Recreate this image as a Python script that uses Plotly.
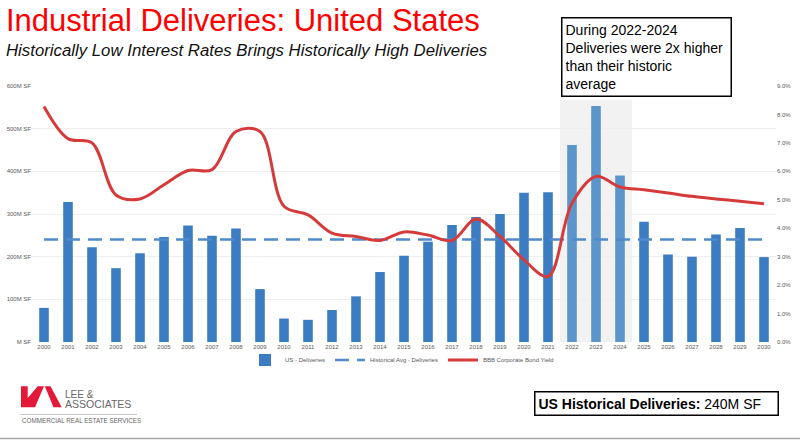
import plotly.graph_objects as go

# data
years = list(range(2000, 2031))
deliveries = [80, 328, 222, 173, 208, 246, 273, 249, 266, 124, 55, 52, 75, 107, 164,
              202, 235, 274, 293, 300, 350, 351, 462, 553, 390, 282, 205, 200, 252, 267, 199]
historical_avg = [240] * len(years)
bbb_yield = [8.28, 7.15, 7.0, 5.17, 5.03, 5.53, 6.03, 6.06, 7.4, 7.4, 4.77, 4.47, 3.83, 3.71, 3.57,
             3.87, 3.76, 3.57, 4.32, 3.71, 2.89, 2.30, 4.88, 5.82, 5.45, 5.35, 5.24, 5.12, 5.03, 4.95, 4.86]
highlight_years = [2022, 2023, 2024]
left_ticks = [0, 100, 200, 300, 400, 500, 600]
left_labels = ["M SF", "100M SF", "200M SF", "300M SF", "400M SF", "500M SF", "600M SF"]
right_ticks = [0, 1, 2, 3, 4, 5, 6, 7, 8, 9]

W, H = 800, 443
L, R, T, B = 32, 24, 86, 101
PW, PH = W - L - R, H - T - B


def px(x):
    return (x - L) / PW


def py(y):
    return (H - B - y) / PH


FONT = "Liberation Sans, Arial, sans-serif"
TICK = dict(family=FONT, size=6, color="#595959")

bar_colors = ['#5B95C9' if y in highlight_years else '#3B7DC0' for y in years]

fig = go.Figure()

# Deliveries bars
fig.add_trace(go.Bar(
    x=years, y=deliveries,
    marker=dict(color=bar_colors, line=dict(width=0)),
    width=0.4,
    name="US - Deliveries"))

# Historical average (dashed)
fig.add_trace(go.Scatter(
    x=years, y=historical_avg,
    mode='lines',
    line=dict(color='#4F8ACB', width=2.5, dash='14px,8px'),
    name="Historical Avg - Deliveries"))

# BBB yield on right axis
fig.add_trace(go.Scatter(
    x=years, y=bbb_yield,
    mode='lines',
    line=dict(color='#D63B3B', width=3, shape='spline', smoothing=1.0),
    name="BBB Corporate Bond Yield",
    yaxis='y2'))

fig.update_layout(
    width=W, height=H,
    margin=dict(l=L, r=R, t=T, b=B, autoexpand=False),
    paper_bgcolor='white', plot_bgcolor='white',
    font=dict(family=FONT),
    showlegend=True,
    legend=dict(orientation='h', x=px(402), y=py(360), xanchor='center', yanchor='middle',
                font=dict(family=FONT, size=6, color='#595959'), itemwidth=30,
                bgcolor='rgba(0,0,0,0)'),
    xaxis=dict(range=[1999.5, 2030.5], tickvals=years, ticktext=[str(y) for y in years],
               tickfont=TICK, showgrid=False, zeroline=False, showline=False, ticks='',
               automargin=False),
    yaxis=dict(range=[0, 600], tickvals=left_ticks, ticktext=left_labels, tickfont=TICK,
               showgrid=True, gridcolor='#EEEEEE', gridwidth=1, zeroline=False, ticks='',
               automargin=False),
    yaxis2=dict(range=[0, 9], tickvals=right_ticks, ticktext=[f"{v:.1f}%" for v in right_ticks],
                tickfont=TICK, overlaying='y', side='right', showgrid=False, zeroline=False,
                ticks='', automargin=False),
)

# shaded 2022-2024 band
fig.add_shape(type='rect', xref='x', yref='y', x0=2021.5, x1=2024.5, y0=0, y1=568,
              fillcolor='#F2F2F2', line=dict(width=0), layer='below')

# titles
fig.add_annotation(text="Industrial Deliveries: United States", xref='paper', yref='paper',
                   x=px(4), y=py(20), xanchor='left', yanchor='middle', showarrow=False,
                   font=dict(family=FONT, size=31, color='#FF0000'))
fig.add_annotation(text="<i>Historically Low Interest Rates Brings Historically High Deliveries</i>",
                   xref='paper', yref='paper', x=px(4), y=py(50), xanchor='left', yanchor='middle',
                   showarrow=False, font=dict(family=FONT, size=16.8, color='#111111'))

# callout box
fig.add_annotation(text="During 2022-2024<br>Deliveries were 2x higher<br>than their historic<br>average",
                   xref='paper', yref='paper', x=px(561), y=py(17), xanchor='left', yanchor='top',
                   align='left', showarrow=False, width=162, borderpad=3, borderwidth=1.5,
                   bordercolor='black', bgcolor='white',
                   font=dict(family=FONT, size=14, color='black'))

# bottom box
fig.add_annotation(text="<b>US Historical Deliveries:</b> 240M SF",
                   xref='paper', yref='paper', x=px(534), y=py(391), xanchor='left', yanchor='top',
                   align='left', showarrow=False, width=236, borderpad=3, borderwidth=1.5,
                   bordercolor='black', bgcolor='white',
                   font=dict(family=FONT, size=14, color='black'))

# logo
def path(points):
    return "M " + " L ".join(f"{px(x)},{py(y)}" for x, y in points) + " Z"


fig.add_shape(type='path', xref='paper', yref='paper',
              path=path([(21, 386.3), (27.7, 386.3), (27.7, 398), (37.7, 386.3), (44, 386.3),
                         (35, 407.3), (21, 407.3)]),
              fillcolor='#E31937', line=dict(width=0))
fig.add_shape(type='path', xref='paper', yref='paper',
              path=path([(44.8, 386.3), (50.5, 386.3), (61.7, 407.3), (53.5, 407.3)]),
              fillcolor='#E31937', line=dict(width=0))
fig.add_annotation(text="LEE &", xref='paper', yref='paper', x=px(63), y=py(394.3),
                   xanchor='left', yanchor='middle', showarrow=False,
                   font=dict(family=FONT, size=10, color='#666666'))
fig.add_annotation(text="ASSOCIATES", xref='paper', yref='paper', x=px(63), y=py(404.4),
                   xanchor='left', yanchor='middle', showarrow=False,
                   font=dict(family=FONT, size=10.5, color='#666666'))
fig.add_shape(type='line', xref='paper', yref='paper', x0=px(20), x1=px(137), y0=py(414.5),
              y1=py(414.5), line=dict(color='#C8C8C8', width=1))
fig.add_annotation(text="COMMERCIAL REAL ESTATE SERVICES", xref='paper', yref='paper',
                   x=px(20), y=py(420.5), xanchor='left', yanchor='middle', showarrow=False,
                   font=dict(family=FONT, size=6.3, color='#666666'))

# slide edge
fig.add_shape(type='line', xref='paper', yref='paper', x0=px(0), x1=px(800), y0=py(438.5),
              y1=py(438.5), line=dict(color='#A8A8A8', width=1.5))

# drop the default 8px page margin so the figure sits at the window origin
fig.write_html("out.html", config={'displayModeBar': False},
               post_script="document.body.style.margin='0';")
